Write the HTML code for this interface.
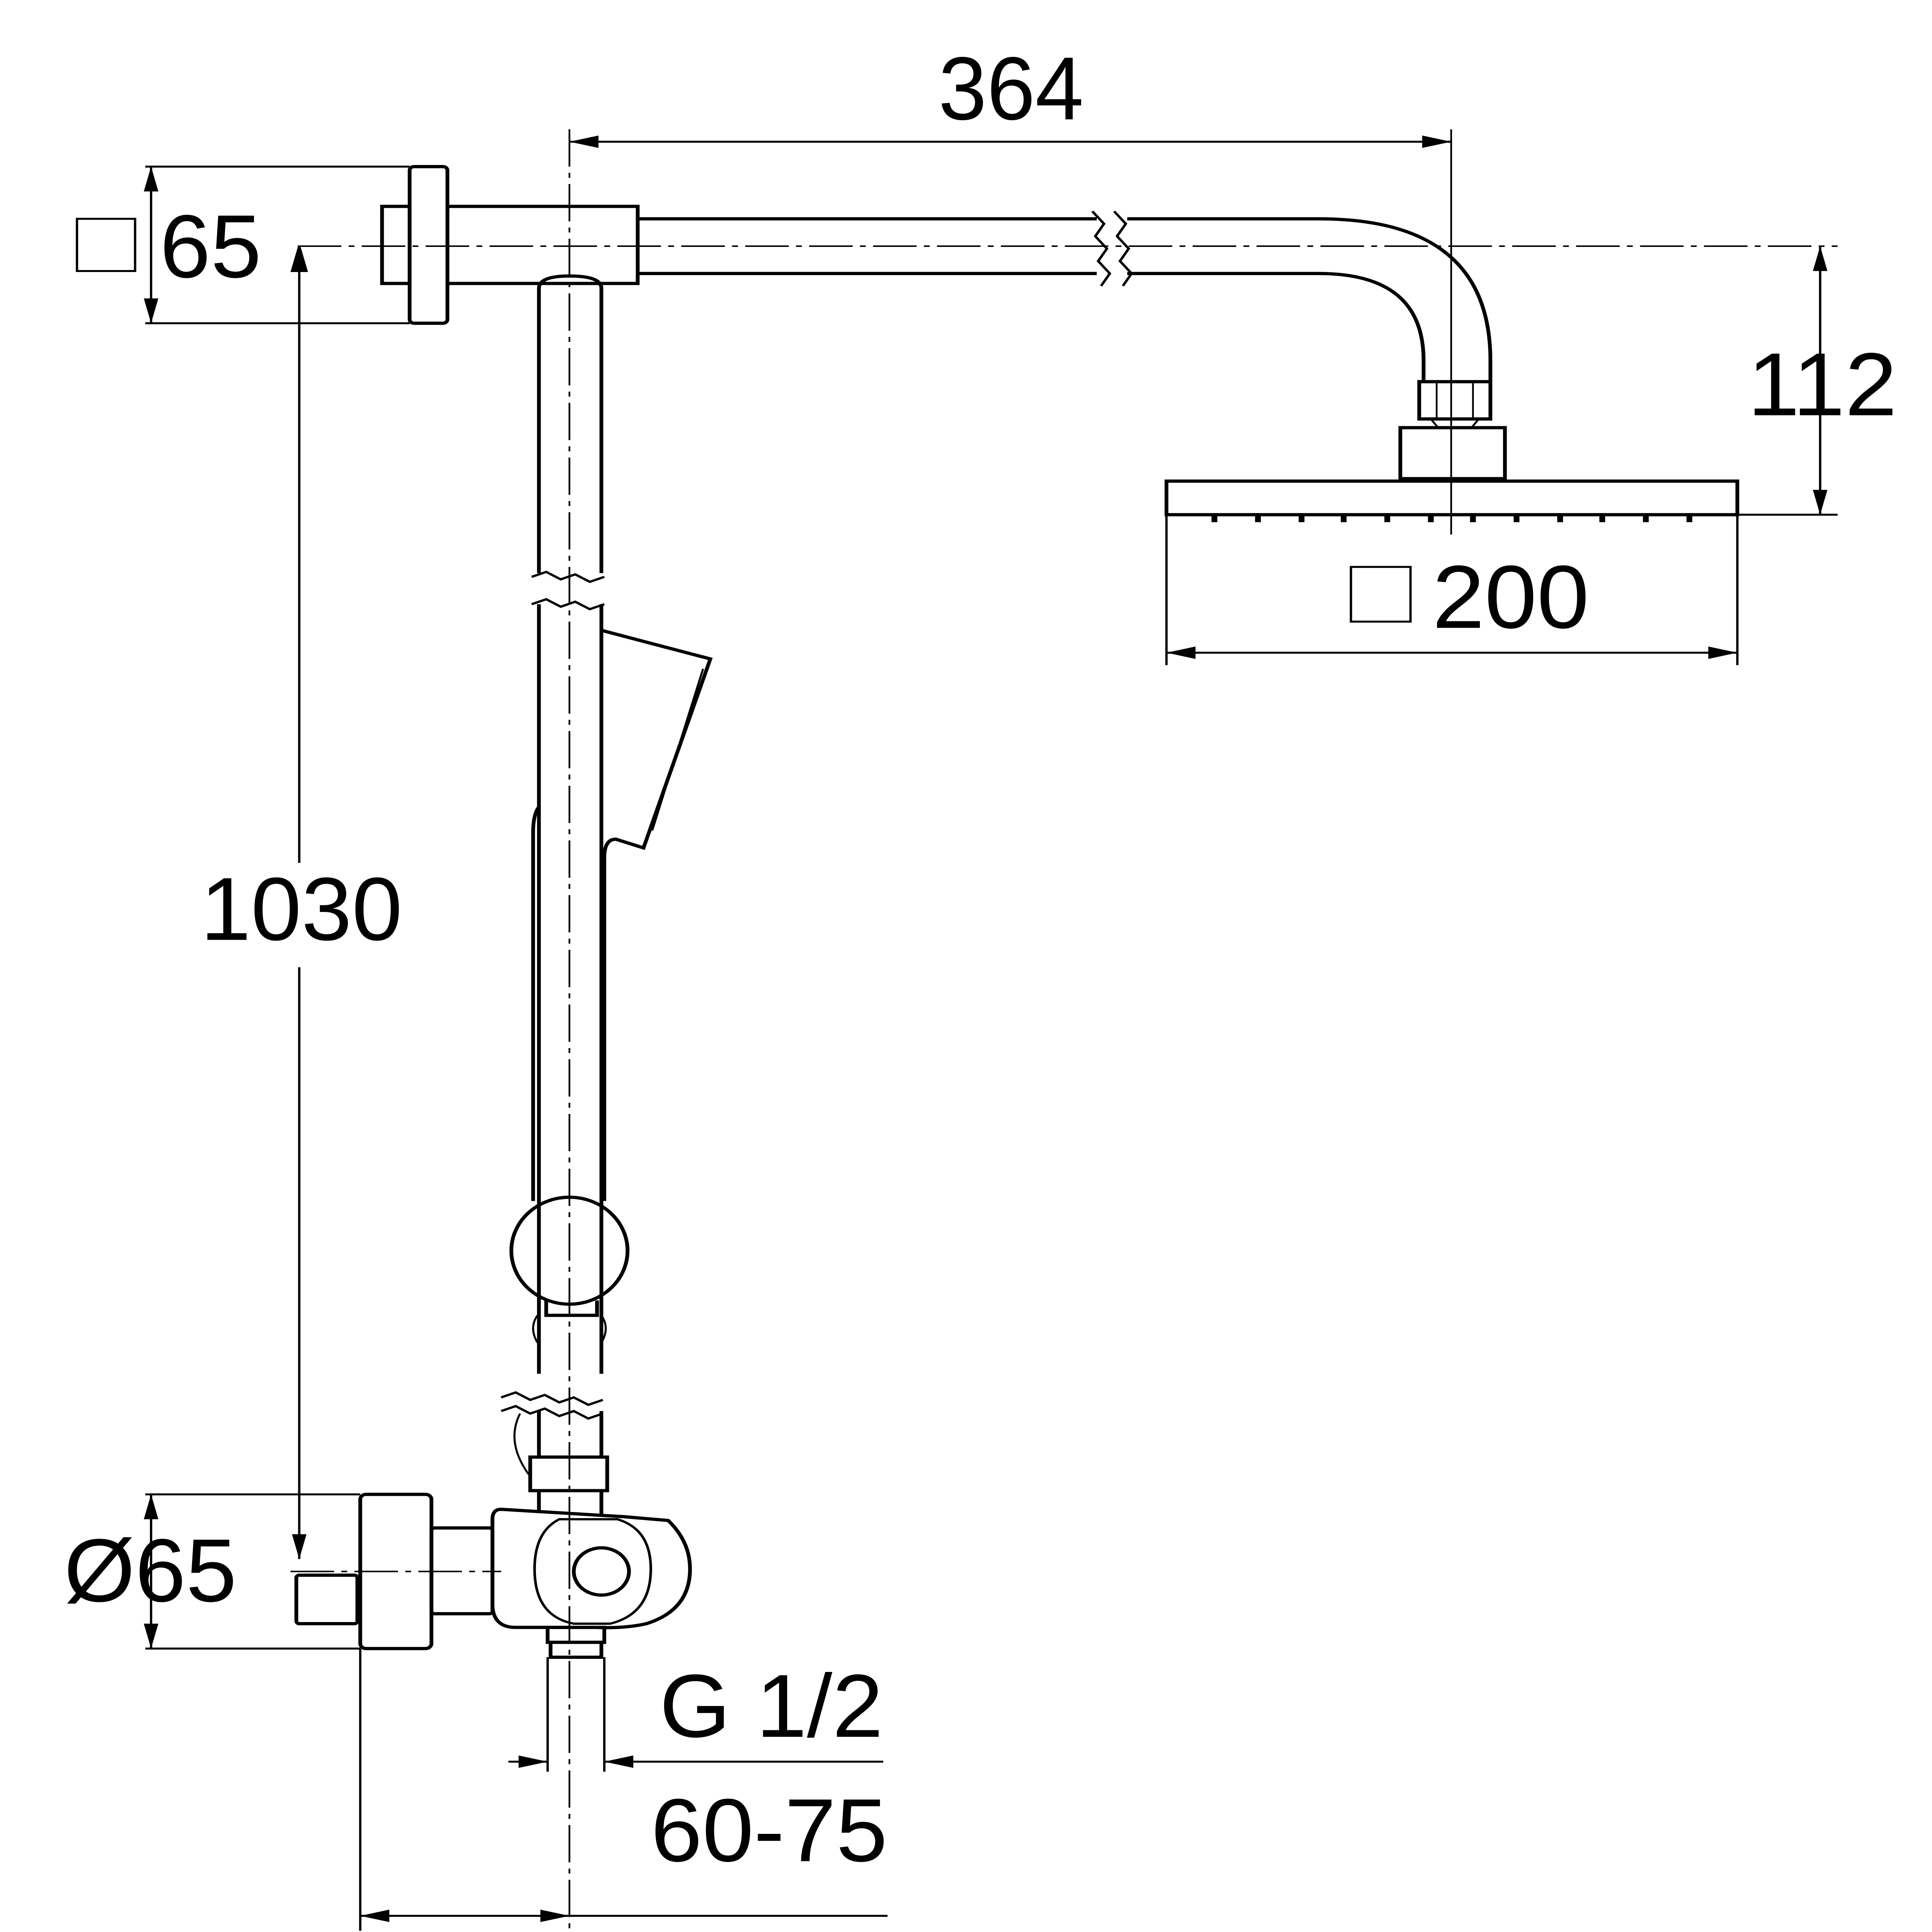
<!DOCTYPE html>
<html><head><meta charset="utf-8"><style>
html,body{margin:0;padding:0;background:#fff;overflow:hidden;width:100vw;height:100vh;}
svg{display:block;position:absolute;left:0;top:0;width:100vw;height:100vh;}
text{font-family:"Liberation Sans Narrow","Liberation Sans",sans-serif;fill:#000;}
</style></head><body>
<svg viewBox="0 0 1330 1554" preserveAspectRatio="none" xmlns="http://www.w3.org/2000/svg">
<defs>
<marker id="a" viewBox="0 0 20 10" refX="20" refY="5" markerWidth="20" markerHeight="10" markerUnits="userSpaceOnUse" orient="auto-start-reverse"><path d="M0,0 L20,5 L0,10 Z" fill="#000"/></marker>
</defs>
<g fill="none" stroke="#000" stroke-width="1.6">
<line x1="392" y1="104" x2="392" y2="1553" stroke-dasharray="30,5,4,5" stroke-width="1.2"/>
<line x1="999" y1="104" x2="999" y2="430" stroke-width="1.2"/>
<line x1="205" y1="198" x2="1265" y2="198" stroke-dasharray="30,5,4,5" stroke-width="1.2"/>
<line x1="200" y1="1264" x2="345" y2="1264" stroke-dasharray="30,5,4,5" stroke-width="1.2"/>
<line x1="392" y1="114" x2="999" y2="114" marker-start="url(#a)" marker-end="url(#a)"/>
<line x1="100" y1="134" x2="282" y2="134"/><line x1="100" y1="260" x2="282" y2="260"/>
<line x1="104" y1="134" x2="104" y2="260" marker-start="url(#a)" marker-end="url(#a)"/>
<rect x="53" y="176" width="40" height="42"/>
<line x1="1196" y1="414" x2="1265" y2="414"/>
<line x1="1253" y1="198" x2="1253" y2="414" marker-start="url(#a)" marker-end="url(#a)"/>
<line x1="803" y1="414" x2="803" y2="535"/><line x1="1196" y1="414" x2="1196" y2="535"/>
<line x1="803" y1="525" x2="1196" y2="525" marker-start="url(#a)" marker-end="url(#a)"/>
<rect x="930" y="456" width="41" height="44"/>
<line x1="206" y1="198" x2="206" y2="694"/>
<line x1="206" y1="778" x2="206" y2="1254" marker-end="url(#a)"/>
<path d="M206,198 l-5,20 h10 z" fill="#000"/>
<line x1="100" y1="1202" x2="248" y2="1202"/><line x1="100" y1="1326" x2="248" y2="1326"/>
<line x1="104" y1="1202" x2="104" y2="1326" marker-start="url(#a)" marker-end="url(#a)"/>
<line x1="377" y1="1333" x2="377" y2="1425"/><line x1="416" y1="1333" x2="416" y2="1425"/>
<line x1="350" y1="1417" x2="377" y2="1417" marker-end="url(#a)"/>
<line x1="608" y1="1417" x2="416" y2="1417" marker-end="url(#a)"/>
<line x1="248" y1="1326" x2="248" y2="1553"/>
<line x1="248" y1="1541" x2="392" y2="1541" marker-start="url(#a)" marker-end="url(#a)"/>
<line x1="392" y1="1541" x2="611" y2="1541"/>
</g>
<g fill="none" stroke="#000" stroke-width="2.6">
<rect x="282" y="134" width="26" height="126" rx="3"/>
<rect x="263" y="166" width="19" height="62"/>
<rect x="308" y="166" width="131" height="62"/>
<path d="M439,176 H755 M439,220 H755 M776,176 H908 Q1026,176 1026,290 V307 M776,220 H908 Q980,220 980,290 V307"/>
<path d="M752,170 l8,10 l-6,10 l8,10 l-6,10 l8,10 l-6,10 M767,170 l8,10 l-6,10 l8,10 l-6,10 l8,10 l-6,10" stroke-width="1.8"/>
<rect x="977" y="307" width="49" height="30"/>
<line x1="989" y1="307" x2="989" y2="337" stroke-width="1.2"/><line x1="1014" y1="307" x2="1014" y2="337" stroke-width="1.2"/>
<path d="M985,337 L990,344 M1018,337 L1013,344" stroke-width="1.4"/>
<rect x="964" y="344" width="72" height="41"/>
<rect x="803" y="387" width="393" height="27"/>
</g>
<g fill="#000">
<rect x="834" y="414" width="4" height="6"/><rect x="864" y="414" width="4" height="6"/><rect x="894" y="414" width="4" height="6"/><rect x="923" y="414" width="4" height="6"/><rect x="953" y="414" width="4" height="6"/><rect x="983" y="414" width="4" height="6"/><rect x="1012" y="414" width="4" height="6"/><rect x="1042" y="414" width="4" height="6"/><rect x="1072" y="414" width="4" height="6"/><rect x="1101" y="414" width="4" height="6"/><rect x="1131" y="414" width="4" height="6"/><rect x="1161" y="414" width="4" height="6"/>
</g>
<g fill="none" stroke="#000" stroke-width="2.6">
<path d="M371,461 V232 Q371,222 392,222 Q414,222 414,232 V461"/>
<path d="M371,486 V1105 M414,486 V1105 M371,1135 V1172 M414,1135 V1172"/>
<path d="M366,464 l10,-4 l10,6 l10,-4 l10,6 l10,-4 M366,486 l10,-4 l10,6 l10,-4 l10,6 l10,-4" stroke-width="1.8"/>
<path d="M345,1124 l10,-4 l10,6 l10,-4 l10,6 l10,-4 l10,6 l10,-4 M345,1135 l10,-4 l10,6 l10,-4 l10,6 l10,-4 l10,6 l10,-4" stroke-width="1.8"/>
<path d="M414,507 L489,530 L443,682 L424,675 Q416,675 416,690 V966"/>
<line x1="484" y1="538" x2="449" y2="668" stroke-width="1.4"/>
<path d="M371,649 Q367,655 367,670 V966" />
<ellipse cx="392" cy="1006" rx="40" ry="43"/>
<path d="M376,1046 V1058 H411 V1046"/>
<path d="M370,1058 Q364,1068 370,1080 M414,1058 Q420,1068 414,1080" stroke-width="1.4"/>
<path d="M358,1137 Q348,1160 364,1186" stroke-width="1.4"/>
<rect x="365" y="1172" width="53" height="27"/>
<line x1="371" y1="1199" x2="371" y2="1217"/><line x1="414" y1="1199" x2="414" y2="1219"/>
<rect x="248" y="1202" width="49" height="124" rx="4"/>
<rect x="204" y="1267" width="42" height="39" rx="2"/>
<rect x="297" y="1229" width="42" height="69" rx="2"/>
<path d="M345,1214 L430,1220 L460,1223 Q475,1240 475,1262 Q475,1295 445,1306 Q430,1310 410,1309 H355 Q339,1309 339,1290 V1222 Q339,1214 345,1214 Z"/>
<path d="M385,1222 H425 Q448,1230 448,1262 Q448,1298 420,1306 H395 Q368,1300 368,1262 Q368,1232 385,1222 Z" stroke-width="1.8"/>
<ellipse cx="414" cy="1264" rx="19" ry="19"/>
<rect x="377" y="1309" width="39" height="12"/>
<rect x="379" y="1321" width="35" height="12"/>
</g>
<g font-size="72">
<text x="646" y="96" textLength="100" lengthAdjust="spacingAndGlyphs">364</text>
<text x="110" y="223" textLength="70" lengthAdjust="spacingAndGlyphs">65</text>
<text x="1203" y="334" textLength="103" lengthAdjust="spacingAndGlyphs">112</text>
<text x="986" y="505" textLength="108" lengthAdjust="spacingAndGlyphs">200</text>
<text x="138" y="756" textLength="139" lengthAdjust="spacingAndGlyphs">1030</text>
<text x="44" y="1288" textLength="119" lengthAdjust="spacingAndGlyphs">Ø65</text>
<text x="454" y="1397" textLength="154" lengthAdjust="spacingAndGlyphs">G 1/2</text>
<text x="448" y="1497" textLength="163" lengthAdjust="spacingAndGlyphs">60-75</text>
</g>
</svg>
</body></html>
